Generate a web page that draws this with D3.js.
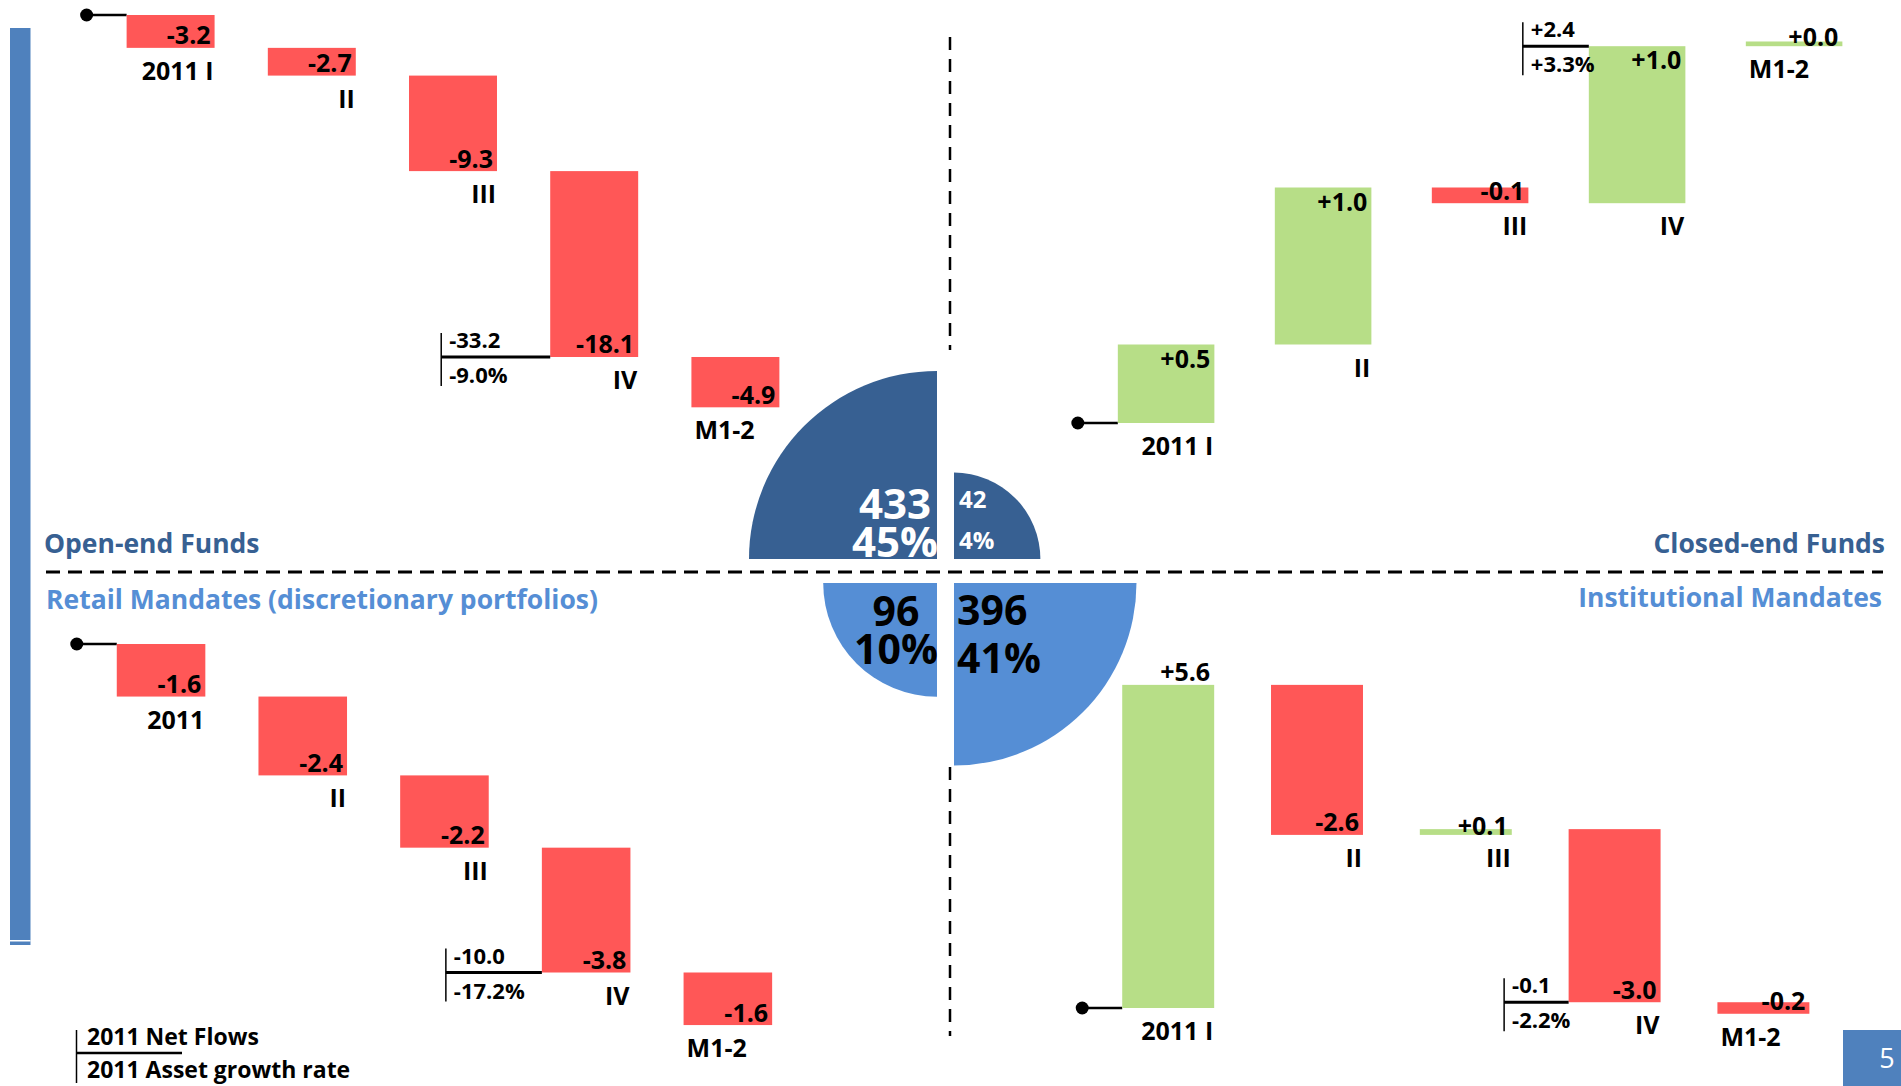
<!DOCTYPE html>
<html>
<head>
<meta charset="utf-8">
<script src="https://cdn.jsdelivr.net/npm/d3@7"></script>
<style>
  html, body { margin: 0; padding: 0; background: #ffffff; }
  svg { display: block; font-family: "Open Sans", "Liberation Sans", sans-serif; }
</style>
</head>
<body>
<svg id="chart" width="1901" height="1086"></svg>
<script>
// Net flows per period, EUR bn
const categoriesFunds  = ["2011 I", "II", "III", "IV", "M1-2"];
const categoriesRetail = ["2011", "II", "III", "IV", "M1-2"];
const openEndFlows       = [-3.2, -2.7, -9.3, -18.1, -4.9];
const closedEndFlows     = [0.5, 1.0, -0.1, 1.0, 0.03];
const retailFlows        = [-1.6, -2.4, -2.2, -3.8, -1.6];
const institutionalFlows = [5.6, -2.6, 0.1, -3.0, -0.2];

// 2011 totals per segment: net flows (EUR bn) and asset growth rate (%)
const netFlows2011    = [-33.2, 2.4, -10.0, -0.1];
const assetGrowth2011 = [-9.0, 3.3, -17.2, -2.2];

// Assets under management per segment (EUR bn) and share of total (%)
const segmentNames  = ["Open-end Funds", "Closed-end Funds", "Retail Mandates (discretionary portfolios)", "Institutional Mandates"];
const segmentAssets = [433, 42, 96, 396];
const segmentShares = [45, 4, 10, 41];

const legendLabels = ["2011 Net Flows", "2011 Asset growth rate"];
const pageNumber = "5";

const RED = "#ff5757", GREEN = "#b7de87";
const DARK = "#376092", LIGHT = "#558ed5", BAR_BLUE = "#4f81bd";
const FONT_BOLD = 700;

const locale = d3.formatLocale({decimal: ".", thousands: ",", grouping: [3], currency: ["", ""], minus: "-"});
const fmtSigned = locale.format("+.1f");

const svg = d3.select("#chart");

// left accent bar
svg.append("rect").attr("x", 10).attr("y", 28).attr("width", 20.5).attr("height", 917).attr("fill", BAR_BLUE);
svg.append("rect").attr("x", 10).attr("y", 940).attr("width", 20.5).attr("height", 1.5).attr("fill", "#ffffff");

// quadrant separators
svg.append("line").attr("x1", 46).attr("x2", 1883).attr("y1", 572).attr("y2", 572)
  .attr("stroke", "#000").attr("stroke-width", 3).attr("stroke-dasharray", "14,8");
[[37, 350], [767, 1036]].forEach(([a, b]) => {
  svg.append("line").attr("x1", 950).attr("x2", 950).attr("y1", a).attr("y2", b)
    .attr("stroke", "#000").attr("stroke-width", 2.5).attr("stroke-dasharray", "13,9");
});

// waterfall panels
const panels = [
  {cats: categoriesFunds,  flows: openEndFlows,       xr: [100, 806],       pad: 0.377, y0: 15,   k: 10.27, annGap: 109},
  {cats: categoriesFunds,  flows: closedEndFlows,     xr: [1087.6, 1872.6], pad: 0.385, y0: 423,  k: 157,   annGap: 66},
  {cats: categoriesRetail, flows: retailFlows,        xr: [90.2, 798.7],    pad: 0.375, y0: 644,  k: 32.85, annGap: 96},
  {cats: categoriesFunds,  flows: institutionalFlows, xr: [1093.8, 1837.8], pad: 0.382, y0: 1008, k: 57.7,  annGap: 64.5, labelAbove: true}
];

panels.forEach((p, pi) => {
  const x = d3.scaleBand().domain(p.cats).range(p.xr).paddingInner(p.pad).paddingOuter(p.pad / 2);
  const y = d3.scaleLinear().domain([0, 1]).range([p.y0, p.y0 - p.k]);
  const cum = Array.from(d3.cumsum(p.flows));
  const steps = p.flows.map((v, i) => ({
    cat: p.cats[i], v, start: i ? cum[i - 1] : 0, end: cum[i], last: i === p.flows.length - 1
  }));
  const g = svg.append("g");

  // starting point marker
  const sx = x(p.cats[0]);
  g.append("line").attr("x1", sx - 40).attr("x2", sx).attr("y1", y(0)).attr("y2", y(0))
    .attr("stroke", "#000").attr("stroke-width", 2.5);
  g.append("circle").attr("cx", sx - 40).attr("cy", y(0)).attr("r", 6.5).attr("fill", "#000");

  g.selectAll("rect.step").data(steps).join("rect")
    .attr("class", "step")
    .attr("x", d => x(d.cat))
    .attr("width", x.bandwidth())
    .attr("y", d => Math.min(y(d.start), y(d.end)))
    .attr("height", d => Math.abs(y(d.start) - y(d.end)))
    .attr("fill", d => d.v >= 0 ? GREEN : RED);

  // value labels
  g.selectAll("text.val").data(steps).join("text")
    .attr("class", "val")
    .attr("x", d => x(d.cat) + x.bandwidth() - 4)
    .attr("y", d => {
      const top = Math.min(y(d.start), y(d.end)), bot = Math.max(y(d.start), y(d.end));
      if (d.v < 0) return bot - 3.5;
      if (p.labelAbove && bot - top > 30) return top - 4;
      return Math.min(top + 23, bot);
    })
    .attr("text-anchor", "end")
    .attr("font-size", 25).attr("font-weight", FONT_BOLD).attr("fill", "#000")
    .text(d => fmtSigned(d.v));

  // category labels
  g.selectAll("text.cat").data(steps).join("text")
    .attr("class", "cat")
    .attr("x", d => d.last ? x(d.cat) + 3 : x(d.cat) + x.bandwidth() - 1)
    .attr("y", d => Math.max(y(d.start), y(d.end)) + 32)
    .attr("text-anchor", d => d.last ? "start" : "end")
    .attr("font-size", 25).attr("font-weight", FONT_BOLD).attr("fill", "#000")
    .text(d => d.cat);

  // 2011 total: net flows over asset growth rate
  const h = y(cum[3]);
  const bx = x(p.cats[3]);
  const xa = bx - p.annGap;
  g.append("line").attr("x1", xa).attr("x2", bx).attr("y1", h).attr("y2", h)
    .attr("stroke", "#000").attr("stroke-width", 3);
  g.append("line").attr("x1", xa).attr("x2", xa).attr("y1", h - 24).attr("y2", h + 29)
    .attr("stroke", "#000").attr("stroke-width", 1.5);
  g.append("text").attr("x", xa + 8).attr("y", h - 9)
    .attr("font-size", 22).attr("font-weight", FONT_BOLD).text(fmtSigned(netFlows2011[pi]));
  g.append("text").attr("x", xa + 8).attr("y", h + 26)
    .attr("font-size", 22).attr("font-weight", FONT_BOLD).text(fmtSigned(assetGrowth2011[pi]) + "%");
});

// segment titles
const titles = [
  {x: 44,   y: 553, anchor: "start", color: DARK},
  {x: 1885, y: 553, anchor: "end",   color: DARK},
  {x: 46,   y: 609, anchor: "start", color: LIGHT},
  {x: 1882, y: 607, anchor: "end",   color: LIGHT}
];
svg.selectAll("text.title").data(segmentNames).join("text")
  .attr("class", "title")
  .attr("x", (d, i) => titles[i].x).attr("y", (d, i) => titles[i].y)
  .attr("text-anchor", (d, i) => titles[i].anchor)
  .attr("fill", (d, i) => titles[i].color)
  .attr("font-size", 26.5).attr("font-weight", FONT_BOLD)
  .text(d => d);

// assets by segment: four quarter discs around the centre
const cx = 945.5, cy = 571;
const r = d3.scalePow().exponent(1 / 3).domain([0, d3.max(segmentAssets)]).range([0, 188]);
const arc = d3.arc().innerRadius(0);
const quarters = [
  {a0: -Math.PI / 2, a1: 0,             dx: -8.5, dy: -12, fill: DARK,  text: "#fff", size: 42, anchor: "middle", tx: -42, ty: [-40, -2]},
  {a0: 0,            a1: Math.PI / 2,   dx: 8.5,  dy: -12, fill: DARK,  text: "#fff", size: 24, anchor: "start",  tx: 5,   ty: [-51, -10]},
  {a0: Math.PI,      a1: Math.PI * 1.5, dx: -8.5, dy: 12,  fill: LIGHT, text: "#000", size: 41, anchor: "middle", tx: -41, ty: [43, 81]},
  {a0: Math.PI / 2,  a1: Math.PI,       dx: 8.5,  dy: 12,  fill: LIGHT, text: "#000", size: 41, anchor: "start",  tx: 3,   ty: [42, 90]}
];
const pie = svg.append("g");
segmentAssets.forEach((v, i) => {
  const q = quarters[i];
  const qx = cx + q.dx, qy = cy + q.dy;
  pie.append("path")
    .attr("transform", `translate(${qx},${qy})`)
    .attr("d", arc({startAngle: q.a0, endAngle: q.a1, outerRadius: r(v)}))
    .attr("fill", q.fill);
  // value and share as one two-line label
  const t = pie.append("text")
    .attr("text-anchor", q.anchor)
    .attr("font-size", q.size).attr("font-weight", FONT_BOLD)
    .attr("fill", q.text);
  [String(v), segmentShares[i] + "%"].forEach((s, j) => {
    t.append("tspan").attr("x", qx + q.tx).attr("y", qy + q.ty[j]).text(s);
  });
});

// legend
const lg = svg.append("g");
lg.append("line").attr("x1", 76.5).attr("x2", 76.5).attr("y1", 1030).attr("y2", 1083).attr("stroke", "#000").attr("stroke-width", 1.5);
lg.append("line").attr("x1", 76.5).attr("x2", 182).attr("y1", 1053).attr("y2", 1053).attr("stroke", "#000").attr("stroke-width", 2.5);
lg.selectAll("text").data(legendLabels).join("text")
  .attr("x", 87).attr("y", (d, i) => i ? 1078 : 1045)
  .attr("font-size", 23).attr("font-weight", FONT_BOLD)
  .text(d => d);

// page number
svg.append("rect").attr("x", 1843).attr("y", 1030).attr("width", 58).attr("height", 56).attr("fill", BAR_BLUE);
svg.append("text").attr("x", 1887).attr("y", 1068).attr("text-anchor", "middle")
  .attr("font-size", 27).attr("fill", "#fff").text(pageNumber);
</script>
</body>
</html>
